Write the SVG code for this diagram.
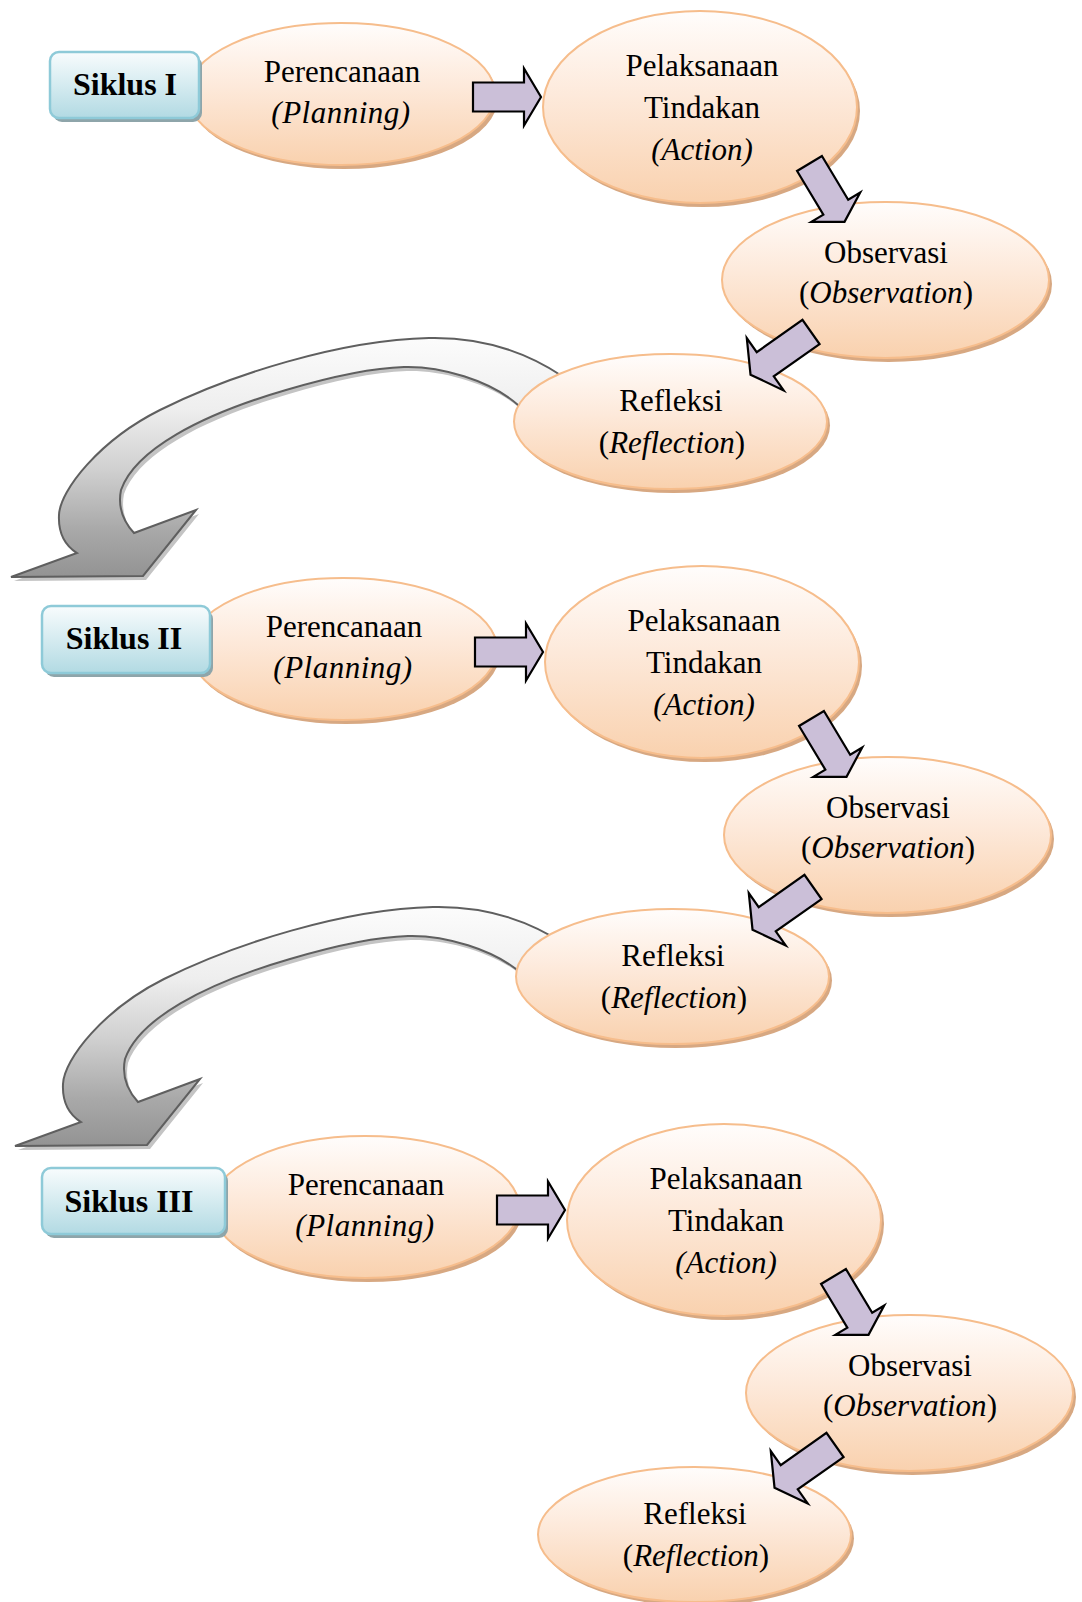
<svg xmlns="http://www.w3.org/2000/svg" xmlns:xlink="http://www.w3.org/1999/xlink" width="1082" height="1602" viewBox="0 0 1082 1602">
<defs>
  <linearGradient id="gOval" x1="0" y1="0" x2="0" y2="1">
    <stop offset="0" stop-color="#fffdfc"/>
    <stop offset="0.45" stop-color="#fde9da"/>
    <stop offset="1" stop-color="#f9d1ae"/>
  </linearGradient>
  <linearGradient id="gBox" x1="0" y1="0" x2="0" y2="1">
    <stop offset="0" stop-color="#f8fcfd"/>
    <stop offset="1" stop-color="#b2dae3"/>
  </linearGradient>
  <linearGradient id="gCurve" x1="0" y1="0" x2="0" y2="1">
    <stop offset="0" stop-color="#fcfcfc"/>
    <stop offset="0.3" stop-color="#eeeeee"/>
    <stop offset="0.55" stop-color="#d0d0d0"/>
    <stop offset="0.8" stop-color="#a9a9a9"/>
    <stop offset="1" stop-color="#939393"/>
  </linearGradient>
  <path id="curvePath" d="M 562,376 C 520,348 475,337 429,338 C 340,340 230,375 160,410 C 100,440 60,490 59,515 C 58,535 66,546 77,553 L 11,577 L 143,576 L 196,510 L 134,533 C 122,520 118,505 121,490 C 135,450 200,415 286,390 C 330,377 370,368 404,367 C 440,366 490,380 518,405 L 545,410 Z"/>
  <path id="arrowA" d="M0,-14.5 H51 V-28.5 L68,0 L51,28.5 V14.5 H0 Z"/>
  <path id="arrowB" d="M0,-14.8 H56 V-32 L74,0 L56,32 V14.8 H0 Z"/>
</defs>
<style>
  .oval { fill: url(#gOval); stroke: #f6bd8c; stroke-width: 2; }
  .ovalsh { fill: #d7a882; }
  .box { fill: url(#gBox); stroke: #8ecad8; stroke-width: 2.5; }
  .boxsh { fill: #8ea5aa; }
  .barrow { fill: #cbbfd8; stroke: #000; stroke-width: 2.2; stroke-linejoin: miter; }
  .curve { fill: url(#gCurve); stroke: #5f5f5f; stroke-width: 2; }
  .curvesh { fill: #c4c4c4; }
  .t { font-family: "Liberation Serif", "Times New Roman", serif; font-size: 31px; fill: #000; text-anchor: middle; }
  .i { font-style: italic; }
  .sp { letter-spacing: 0.5px; }
  .b { font-weight: bold; font-size: 32px; }
</style>
<rect width="1082" height="1602" fill="#ffffff"/>

<g id="connectors-back">
  <g id="loop1">
    <use xlink:href="#curvePath" class="curvesh" transform="translate(3,4)"/>
    <use xlink:href="#curvePath" class="curve"/>
  </g>
  <g id="loop2" transform="translate(4,569)">
    <use xlink:href="#curvePath" class="curvesh" transform="translate(3,4)"/>
    <use xlink:href="#curvePath" class="curve"/>
  </g>
</g>

<!-- Cycle I -->
<g id="c1-plan">
  <ellipse class="ovalsh" cx="344" cy="98" rx="154" ry="71"/>
  <ellipse class="oval" cx="341" cy="94" rx="154" ry="71"/>
  <text class="t" x="342" y="82">Perencanaan</text>
  <text class="t i sp" x="341" y="123">(Planning)</text>
</g>
<g id="c1-box">
  <rect class="boxsh" x="53" y="56" width="149" height="66" rx="9"/>
  <rect class="box" x="50" y="52" width="149" height="66" rx="9"/>
  <text class="t b" x="125" y="95">Siklus I</text>
</g>
<g id="c1-act">
  <ellipse class="ovalsh" cx="703" cy="111" rx="157" ry="96"/>
  <ellipse class="oval" cx="700" cy="107" rx="157" ry="96"/>
  <text class="t" x="702" y="76">Pelaksanaan</text>
  <text class="t" x="702" y="118">Tindakan</text>
  <text class="t i" x="702" y="160">(Action)</text>
</g>
<g id="c1-obs">
  <ellipse class="ovalsh" cx="888.5" cy="284" rx="163.5" ry="78"/>
  <ellipse class="oval" cx="885.5" cy="280" rx="163.5" ry="78"/>
  <text class="t" x="886" y="263">Observasi</text>
  <text class="t" x="886" y="303">(<tspan class="i">Observation</tspan>)</text>
</g>
<g id="c1-ref">
  <ellipse class="ovalsh" cx="673.5" cy="425.5" rx="156.5" ry="67.5"/>
  <ellipse class="oval" cx="670.5" cy="421.5" rx="156.5" ry="67.5"/>
  <text class="t" x="671" y="411">Refleksi</text>
  <text class="t" x="672" y="453">(<tspan class="i">Reflection</tspan>)</text>
</g>

<!-- Cycle II -->
<g id="c2-plan" transform="translate(2,555)">
  <ellipse class="ovalsh" cx="344" cy="98" rx="154" ry="71"/>
  <ellipse class="oval" cx="341" cy="94" rx="154" ry="71"/>
  <text class="t" x="342" y="82">Perencanaan</text>
  <text class="t i sp" x="341" y="123">(Planning)</text>
</g>
<g id="c2-box">
  <rect class="boxsh" x="45" y="610" width="168" height="67" rx="9"/>
  <rect class="box" x="42" y="606" width="168" height="67" rx="9"/>
  <text class="t b" x="124" y="649">Siklus II</text>
</g>
<g id="c2-act" transform="translate(2,555)">
  <ellipse class="ovalsh" cx="703" cy="111" rx="157" ry="96"/>
  <ellipse class="oval" cx="700" cy="107" rx="157" ry="96"/>
  <text class="t" x="702" y="76">Pelaksanaan</text>
  <text class="t" x="702" y="118">Tindakan</text>
  <text class="t i" x="702" y="160">(Action)</text>
</g>
<g id="c2-obs" transform="translate(2,555)">
  <ellipse class="ovalsh" cx="888.5" cy="284" rx="163.5" ry="78"/>
  <ellipse class="oval" cx="885.5" cy="280" rx="163.5" ry="78"/>
  <text class="t" x="886" y="263">Observasi</text>
  <text class="t" x="886" y="303">(<tspan class="i">Observation</tspan>)</text>
</g>
<g id="c2-ref" transform="translate(2,555)">
  <ellipse class="ovalsh" cx="673.5" cy="425.5" rx="156.5" ry="67.5"/>
  <ellipse class="oval" cx="670.5" cy="421.5" rx="156.5" ry="67.5"/>
  <text class="t" x="671" y="411">Refleksi</text>
  <text class="t" x="672" y="453">(<tspan class="i">Reflection</tspan>)</text>
</g>

<!-- Cycle III -->
<g id="c3-plan" transform="translate(24,1113)">
  <ellipse class="ovalsh" cx="344" cy="98" rx="154" ry="71"/>
  <ellipse class="oval" cx="341" cy="94" rx="154" ry="71"/>
  <text class="t" x="342" y="82">Perencanaan</text>
  <text class="t i sp" x="341" y="123">(Planning)</text>
</g>
<g id="c3-box">
  <rect class="boxsh" x="45" y="1172" width="183" height="66" rx="9"/>
  <rect class="box" x="42" y="1168" width="183" height="66" rx="9"/>
  <text class="t b" x="129" y="1212">Siklus III</text>
</g>
<g id="c3-act" transform="translate(24,1113)">
  <ellipse class="ovalsh" cx="703" cy="111" rx="157" ry="96"/>
  <ellipse class="oval" cx="700" cy="107" rx="157" ry="96"/>
  <text class="t" x="702" y="76">Pelaksanaan</text>
  <text class="t" x="702" y="118">Tindakan</text>
  <text class="t i" x="702" y="160">(Action)</text>
</g>
<g id="c3-obs" transform="translate(24,1113)">
  <ellipse class="ovalsh" cx="888.5" cy="284" rx="163.5" ry="78"/>
  <ellipse class="oval" cx="885.5" cy="280" rx="163.5" ry="78"/>
  <text class="t" x="886" y="263">Observasi</text>
  <text class="t" x="886" y="303">(<tspan class="i">Observation</tspan>)</text>
</g>
<g id="c3-ref" transform="translate(24,1113)">
  <ellipse class="ovalsh" cx="673.5" cy="425.5" rx="156.5" ry="67.5"/>
  <ellipse class="oval" cx="670.5" cy="421.5" rx="156.5" ry="67.5"/>
  <text class="t" x="671" y="411">Refleksi</text>
  <text class="t" x="672" y="453">(<tspan class="i">Reflection</tspan>)</text>
</g>

<g id="connectors">
  <g id="arrows-c1">
    <use xlink:href="#arrowA" class="barrow" transform="translate(473,97)"/>
    <use xlink:href="#arrowA" class="barrow" transform="translate(809.5,163.5) rotate(59)"/>
    <use xlink:href="#arrowB" class="barrow" transform="translate(811,332) rotate(144.8)"/>
  </g>
  <g id="arrows-c2" transform="translate(2,555)">
    <use xlink:href="#arrowA" class="barrow" transform="translate(473,97)"/>
    <use xlink:href="#arrowA" class="barrow" transform="translate(809.5,163.5) rotate(59)"/>
    <use xlink:href="#arrowB" class="barrow" transform="translate(811,332) rotate(144.8)"/>
  </g>
  <g id="arrows-c3" transform="translate(24,1113)">
    <use xlink:href="#arrowA" class="barrow" transform="translate(473,97)"/>
    <use xlink:href="#arrowA" class="barrow" transform="translate(809.5,163.5) rotate(59)"/>
    <use xlink:href="#arrowB" class="barrow" transform="translate(811,332) rotate(144.8)"/>
  </g>
</g>
</svg>
